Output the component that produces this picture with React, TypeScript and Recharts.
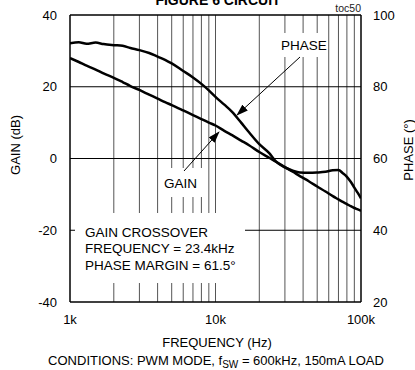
import React from "react";
import { ComposedChart, Line, XAxis, YAxis, ReferenceLine } from "recharts";

const freqs = [1000, 1150, 1300, 1500, 1700, 2000, 2300, 2600, 3000, 3500, 4000, 4500, 5000, 6000, 7000, 8000, 9000, 10000, 11500, 13000, 15000, 17000, 20000, 23400, 26000, 30000, 34000, 38000, 44000, 50000, 57000, 64000, 70000, 75000, 80000, 85000, 90000, 95000, 100000];
const gainDb = [28.0, 26.9, 25.9, 24.8, 23.7, 22.5, 21.3, 20.2, 19.1, 17.8, 16.7, 15.7, 14.9, 13.4, 12.1, 11.0, 10.0, 9.2, 7.7, 6.5, 5.0, 3.7, 1.8, 0.2, -0.9, -2.4, -3.7, -4.9, -6.4, -7.8, -9.2, -10.5, -11.4, -12.1, -12.7, -13.3, -13.8, -14.2, -14.6];
const phaseDeg = [92.1, 92.4, 92.0, 92.3, 91.9, 91.6, 91.4, 90.8, 90.2, 89.4, 88.4, 87.5, 86.5, 84.4, 82.6, 80.8, 79.0, 77.2, 75.0, 73.0, 70.0, 67.3, 64.0, 61.5, 59.2, 57.5, 56.6, 56.1, 56.0, 56.1, 56.3, 56.7, 56.8, 55.9, 54.9, 53.5, 51.9, 50.4, 48.9];

const xTicks = [1000, 10000, 100000];
const xTickLabels = ["1k", "10k", "100k"];
const gainTicks = [-40, -20, 0, 20, 40];
const phaseTicks = [20, 40, 60, 80, 100];
const gridFreqs = [2000, 3000, 4000, 5000, 6000, 7000, 8000, 9000, 10000, 20000, 30000, 40000, 50000, 60000, 70000, 80000, 90000];
const gridGain = [-20, 0, 20];

const data = freqs.map((f, i) => ({ f, gain: gainDb[i], phase: phaseDeg[i] }));

const FONT = '"Liberation Sans", Arial, sans-serif';

export default function App() {
  const tickStyle = { fill: "#000", fontSize: 13, fontFamily: FONT };
  return (
    <div style={{ position: "absolute", left: 0, top: 0, width: 415, height: 370, background: "#fff", fontFamily: FONT, overflow: "hidden" }}>
      <ComposedChart width={415} height={370} data={data} margin={{ top: 14, right: 14, bottom: 38, left: 30 }}>
        <XAxis xAxisId="b" dataKey="f" type="number" scale="log" domain={[1000, 100000]} ticks={xTicks}
          tickFormatter={(v: number) => xTickLabels[xTicks.indexOf(v)] ?? ""} allowDataOverflow
          axisLine={{ stroke: "#000", strokeWidth: 1.5 }} tickLine={false} tickSize={0} tickMargin={13} height={30} tick={tickStyle} interval={0} />
        <XAxis xAxisId="t" orientation="top" dataKey="f" type="number" scale="log" domain={[1000, 100000]} ticks={xTicks}
          allowDataOverflow axisLine={{ stroke: "#000", strokeWidth: 1.5 }} tickLine={false} tick={false} height={1} />
        <YAxis yAxisId="l" domain={[-40, 40]} ticks={gainTicks} width={40} axisLine={{ stroke: "#000", strokeWidth: 1.5 }}
          tickLine={false} tickSize={0} tickMargin={13} tick={tickStyle} interval={0} />
        <YAxis yAxisId="r" orientation="right" domain={[20, 100]} ticks={phaseTicks} width={40} axisLine={{ stroke: "#000", strokeWidth: 1.5 }}
          tickLine={false} tickSize={0} tickMargin={12} tick={tickStyle} interval={0} />
        {gridFreqs.map((f) => (
          <ReferenceLine key={"v" + f} xAxisId="b" yAxisId="l" x={f} stroke="#555" strokeWidth={1} />
        ))}
        {gridGain.map((g) => (
          <ReferenceLine key={"h" + g} xAxisId="b" yAxisId="l" y={g} stroke="#000" strokeWidth={1} />
        ))}
        <Line xAxisId="b" yAxisId="l" dataKey="gain" type="monotone" stroke="#000" strokeWidth={2.5} dot={false} isAnimationActive={false} />
        <Line xAxisId="b" yAxisId="r" dataKey="phase" type="monotone" stroke="#000" strokeWidth={2.5} dot={false} isAnimationActive={false} />
      </ComposedChart>
      <svg width={415} height={370} style={{ position: "absolute", left: 0, top: 0, pointerEvents: "none" }} fontFamily={FONT}>
        <defs>
          <marker id="ah" markerWidth="12" markerHeight="8" refX="11" refY="4" orient="auto" markerUnits="userSpaceOnUse">
            <path d="M0,0 L12,4 L0,8 Z" fill="#000" />
          </marker>
        </defs>
        <text x={218} y={5} textAnchor="middle" fontSize={14} fontWeight="bold">FIGURE 6 CIRCUIT</text>
        <text x={361} y={12} textAnchor="end" fontSize={10.5} fill="#222">toc50</text>
        <rect x={276} y={33} width={50} height={24} fill="#fff" />
        <text x={304} y={50} textAnchor="middle" fontSize={13.5}>PHASE</text>
        <line x1={300} y1={57} x2={237} y2={115} stroke="#000" strokeWidth={1} markerEnd="url(#ah)" />
        <rect x={160} y={168} width={45} height={29} fill="#fff" />
        <text x={180.5} y={188} textAnchor="middle" fontSize={13.5}>GAIN</text>
        <line x1={184} y1={171} x2={219} y2={132} stroke="#000" strokeWidth={1} markerEnd="url(#ah)" />
        <rect x={75} y={213} width={170} height={70} fill="#fff" />
        <text x={85} y={236.5} fontSize={13.5}>GAIN CROSSOVER</text>
        <text x={85} y={253} fontSize={13.5}>FREQUENCY = 23.4kHz</text>
        <text x={85} y={270} fontSize={13.5}>PHASE MARGIN = 61.5°</text>
        <text x={0} y={0} transform="translate(15,145) rotate(-90)" textAnchor="middle" dominantBaseline="central" fontSize={13}>GAIN (dB)</text>
        <text x={0} y={0} transform="translate(408,150) rotate(-90)" textAnchor="middle" dominantBaseline="central" fontSize={13}>PHASE (°)</text>
        <text x={217} y={346.5} textAnchor="middle" fontSize={13}>FREQUENCY (Hz)</text>
        <text x={216} y={364.5} textAnchor="middle" fontSize={13}>
          CONDITIONS: PWM MODE, f<tspan fontSize={10} dy={3}>SW</tspan><tspan dy={-3}> = 600kHz, 150mA LOAD</tspan>
        </text>
      </svg>
    </div>
  );
}
